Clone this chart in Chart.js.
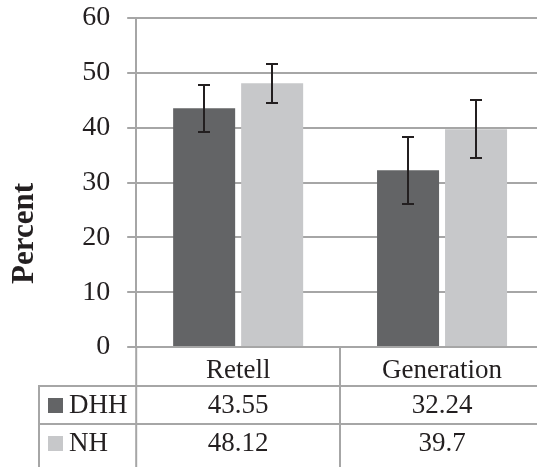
<!DOCTYPE html>
<html>
<head>
<meta charset="utf-8">
<script src="https://cdn.jsdelivr.net/npm/chart.js@4.4.0/dist/chart.umd.min.js"></script>
<style>
html, body { margin:0; padding:0; background:#fff; overflow:hidden; }
#wrap { width:537px; height:467px; overflow:hidden; }
</style>
</head>
<body>
<div id="wrap"><canvas id="chartContainer" width="545" height="467"></canvas></div>
<script>
var categories = ["Retell", "Generation"];
var seriesNames = ["DHH", "NH"];
var dhhValues = [43.55, 32.24];
var nhValues = [48.12, 39.7];
// error bar half-lengths
var dhhErrors = [4.25, 6.1];
var nhErrors = [3.55, 5.3];
var yTicks = [0, 10, 20, 30, 40, 50, 60];

var serif = "'Liberation Serif', 'Times New Roman', serif";
var textColor = "#231f20";
var lineColor = "#a6a6a6";
var barColors = ["#636466", "#c7c8ca"];

// whiskers on top of each bar
var errorBars = {
    id: 'errorBars',
    afterDatasetsDraw: function(chart){
        var ctx = chart.ctx, y = chart.scales.y;
        chart.data.datasets.forEach(function(ds, di){
            var meta = chart.getDatasetMeta(di);
            meta.data.forEach(function(bar, i){
                var v = ds.data[i], e = ds.errors[i];
                var top = Math.round(y.getPixelForValue(v + e)), bot = Math.round(y.getPixelForValue(v - e));
                var bx = Math.round(bar.x);
                ctx.save();
                ctx.strokeStyle = textColor;
                ctx.lineWidth = 2;
                ctx.beginPath();
                ctx.moveTo(bx, top); ctx.lineTo(bx, bot);
                ctx.moveTo(bx - 6, top); ctx.lineTo(bx + 6, top);
                ctx.moveTo(bx - 6, bot); ctx.lineTo(bx + 6, bot);
                ctx.stroke();
                ctx.restore();
            });
        });
    }
};

// excel style data table under the axis
var dataTable = {
    id: 'dataTable',
    afterDraw: function(chart){
        var ctx = chart.ctx, x = chart.scales.x, area = chart.chartArea;
        var h = chart.height, w = chart.width;
        var colW = x.width / categories.length;
        var tableTop = area.bottom + 39;
        var rowH = 38;
        var tableLeft = 39;

        ctx.save();
        ctx.strokeStyle = lineColor;
        ctx.lineWidth = 2;
        ctx.beginPath();
        // axis line continues down through the table
        ctx.moveTo(area.left, area.bottom); ctx.lineTo(area.left, h);
        for (var c = 1; c < categories.length; c++){
            var bx = Math.round(area.left + colW * c);
            ctx.moveTo(bx, area.bottom); ctx.lineTo(bx, h);
        }
        ctx.moveTo(tableLeft, tableTop); ctx.lineTo(tableLeft, h);
        for (var r = 0; r < seriesNames.length; r++){
            var ly = tableTop + rowH * r;
            ctx.moveTo(tableLeft - 1, ly); ctx.lineTo(w, ly);
        }
        ctx.stroke();

        ctx.font = "27px " + serif;
        ctx.textBaseline = "middle";
        chart.data.datasets.forEach(function(ds, di){
            var cy = tableTop + rowH * di + rowH / 2 + 1;
            ctx.fillStyle = ds.backgroundColor;
            ctx.fillRect(48, Math.round(cy - 8), 15, 15);
            ctx.fillStyle = textColor;
            ctx.textAlign = "left";
            ctx.fillText(ds.label, 69, cy);
            ctx.textAlign = "center";
            ds.data.forEach(function(v, i){
                ctx.fillText(String(v), x.getPixelForValue(i), cy);
            });
        });
        ctx.restore();
    }
};

var myBarChart = new Chart('chartContainer', {
    type: 'bar',
    data: {
        labels: categories,
        datasets: [{
            label: seriesNames[0],
            data: dhhValues,
            errors: dhhErrors,
            backgroundColor: barColors[0],
            categoryPercentage: 0.667,
            barPercentage: 0.912
        }, {
            label: seriesNames[1],
            data: nhValues,
            errors: nhErrors,
            backgroundColor: barColors[1],
            categoryPercentage: 0.667,
            barPercentage: 0.912
        }]
    },
    options: {
        responsive: false,
        devicePixelRatio: 1,
        animation: false,
        layout: { padding: { top: 0, right: 1, left: 0, bottom: 0 } },
        plugins: {
            legend: { display: false },
            tooltip: { enabled: false },
            title: {
                display: true,
                position: 'left',
                text: 'Percent',
                color: textColor,
                font: { family: serif, size: 31, weight: 'bold' },
                padding: { top: 6, bottom: 0 }
            }
        },
        scales: {
            x: {
                grid: { display: false, drawTicks: false },
                border: { display: false },
                ticks: { color: textColor, font: { family: serif, size: 27 }, padding: 8 },
                afterFit: function(scale){ scale.height = 120; }
            },
            y: {
                min: 0,
                max: 60,
                afterBuildTicks: function(scale){
                    scale.ticks = yTicks.map(function(v){ return { value: v }; });
                },
                grid: { color: lineColor, lineWidth: 2, tickLength: 9 },
                border: { display: true, color: lineColor, width: 2 },
                ticks: { color: textColor, font: { family: serif, size: 28 }, padding: 17 },
                afterFit: function(scale){
                    scale.width = 93;
                    scale.paddingTop = 18;
                    scale.paddingBottom = 0;
                }
            }
        }
    },
    plugins: [errorBars, dataTable]
});
</script>
</body>
</html>
